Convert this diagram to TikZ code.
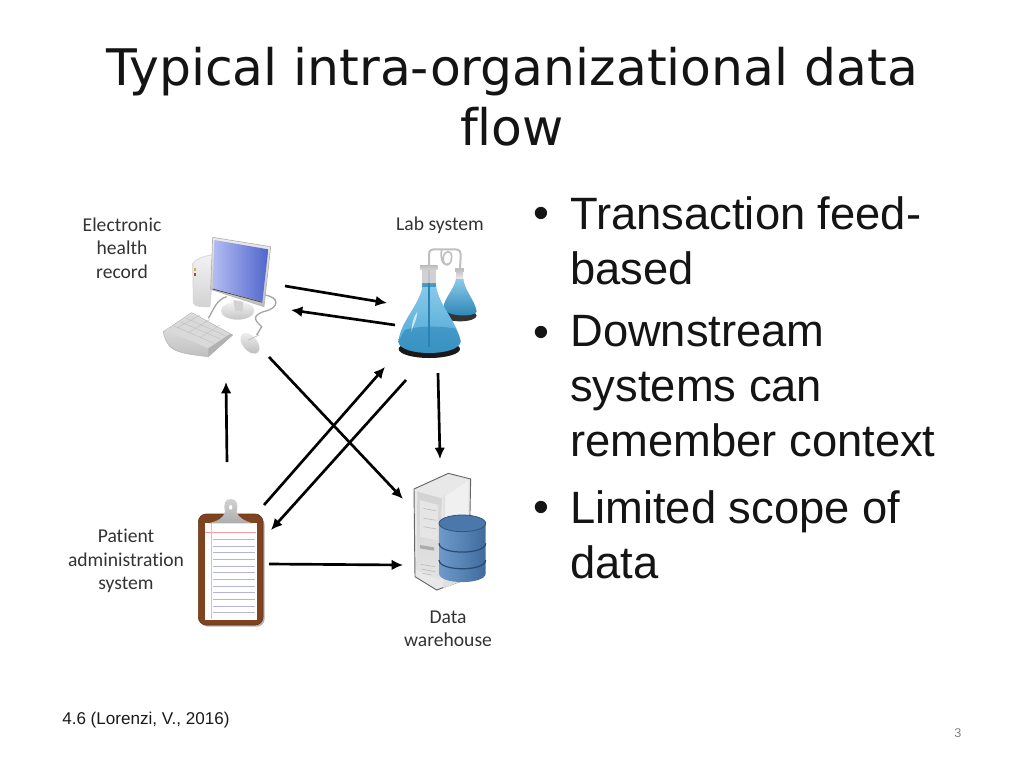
\documentclass[tikz,border=0pt]{standalone}
\usepackage{fontspec}
\setmainfont{Liberation Sans}
\newfontfamily\titlefont[Ligatures=NoCommon]{DejaVu Sans}
\newfontfamily\labelfont[Ligatures=NoCommon]{Carlito}
\usetikzlibrary{arrows.meta,shadings}
\definecolor{lab}{HTML}{333333}
\definecolor{flaskL}{HTML}{8CCBEA}
\definecolor{flaskM}{HTML}{45A3D4}
\definecolor{flaskD}{HTML}{2A83B5}
\definecolor{screenL}{HTML}{B4BCF2}
\definecolor{screenD}{HTML}{4F66CC}
\definecolor{boardc}{HTML}{7E431F}
\definecolor{dbL}{HTML}{6E9BCB}
\definecolor{dbD}{HTML}{3F6A9E}
\definecolor{dbT}{HTML}{4A78AC}
\tikzset{
  link/.style={line width=2pt,black,-{Latex[length=8.5pt,width=8pt]}},
  ttl/.style={font=\titlefont\fontsize{37.8}{45}\selectfont,align=center,text=black!92,inner sep=0},
  bul/.style={font=\fontsize{34}{41.3}\selectfont,align=left,anchor=north west,inner sep=0,text=black!92},
  lbl/.style={font=\labelfont\fontsize{14.7}{17.6}\selectfont,align=center,text=lab,inner sep=0},
  zoomed/.style={x=.25pt,y=-.25pt},
}
\begin{document}
\begin{tikzpicture}[x=.75pt,y=-.75pt]
\useasboundingbox (0,0) rectangle (1024,768);
% title
\node[ttl] (title) at (512,97) {Typical intra-organizational data\\flow};
% bullets
\node[bul] (b1) at (570,196) {Transaction feed-\\based};
\node[bul] (b2) at (570,315) {Downstream\\systems can\\remember context};
\node[bul] (b3) at (570,490) {Limited scope of\\data};
\foreach \n/\y in {d1/218,d2/337,d3/512}
  \node[font=\fontsize{34}{41}\selectfont,inner sep=0,text=black!92] (\n) at (541,\y) {•};
% labels
\node[lbl] (lehr) at (122,248) {Electronic\\health\\record};
\node[lbl] (llab) at (440,225) {Lab system};
\node[lbl] (lpat) at (126,561) {Patient\\administration\\system};
\node[lbl] (ldw) at (448,629) {Data\\warehouse};
\node[font=\fontsize{12.8}{14}\selectfont,anchor=west,inner sep=0,text=black!90] (foot) at (62,720) {4.6 (Lorenzi, V., 2016)};
\node[font=\fontsize{9.5}{12}\selectfont,inner sep=0,text=black!50] (page) at (958,733) {3};

% ---------- computer
\begin{scope}[shift={(60,200)},zoomed]
 \draw[gray!70,line width=1pt] (445,355) .. controls (465,320) and (470,300) .. (500,290);
 \draw[gray!70,line width=1pt] (612,285) .. controls (660,290) and (660,325) .. (610,335) .. controls (570,350) and (590,365) .. (605,380) -- (590,405);
 \draw[gray!35,line width=.5pt,top color=gray!10,bottom color=gray!35] (398,190) .. controls (410,175) and (440,165) .. (462,165) -- (450,320) .. controls (430,322) and (405,320) .. (400,310) -- cycle;
 \fill[olive!60] (402,205) rectangle (409,212);
 \fill[red!50!gray] (402,218) rectangle (409,229);
 \shade[top color=gray!10,bottom color=gray!45] (533,332) ellipse [x radius=50,y radius=27];
 \fill[gray!35] (520,300) -- (550,305) -- (548,335) -- (525,332) -- cycle;
 \draw[gray!60,line width=.5pt,top color=gray!15,bottom color=gray!50] (458,112) -- (632,140) -- (612,320) -- (452,268) -- cycle;
 \shade[left color=screenL,right color=screenD] (463,120) -- (625,148) -- (607,305) -- (458,265) -- cycle;
 \draw[black!70,line width=.6pt] (458,267) -- (607,307);
 % keyboard
 \draw[gray!60,line width=.4pt,top color=gray!15,bottom color=gray!50] (310,395) -- (395,338) -- (518,405) -- (445,470) .. controls (400,465) and (350,460) .. (330,440) .. controls (318,425) and (312,410) .. (310,395) -- cycle;
 \fill[gray!30] (318,390) -- (395,342) -- (510,402) -- (445,445) -- cycle;
 \draw[gray!50,line width=.3pt] (340,377) -- (462,430) (360,365) -- (482,417) (378,354) -- (497,408)
  (352,384) -- (420,345) (385,398) -- (450,358) (420,413) -- (480,375);
 \fill[gray!60] (445,445) -- (510,402) -- (518,405) -- (445,470) -- cycle;
 % mouse
 \shade[top color=gray!15,bottom color=gray!50,rotate around={-50:(570,430)}] (570,430) ellipse [x radius=36,y radius=22];
 \draw[gray!55,line width=.5pt] (565,420) -- (597,405);
\end{scope}
\node[inner sep=0,minimum width=110,minimum height=125] (ehr) at (220,296) {};

% ---------- flasks
\begin{scope}[shift={(380,200)},zoomed]
 % tube
 \draw[gray!50,line width=1.5pt] (147,195) -- (147,165) .. controls (147,148) and (155,148) .. (170,148) -- (225,148) .. controls (240,148) and (242,155) .. (242,170) -- (240,205);
 \draw[gray!50,line width=1.2pt] (185,150) .. controls (175,200) and (215,210) .. (215,170) .. controls (215,150) and (195,150) .. (190,170) .. controls (187,190) and (200,200) .. (205,190);
 % small flask
 \fill[black!80] (240,347) ellipse [x radius=50,y radius=17];
 \shade[top color=flaskL,bottom color=flaskD] (228,235) -- (250,235) .. controls (252,270) and (285,300) .. (290,335) .. controls (285,352) and (195,352) .. (190,322) .. controls (195,290) and (225,265) .. (228,235) -- cycle;
 \fill[gray!50] (224,204) rectangle (252,216);
 \shade[top color=gray!45,bottom color=gray!15] (228,214) rectangle (249,236);
 % large flask
 \fill[black!90] (148,447) ellipse [x radius=92,y radius=27];
 \shade[top color=flaskL,bottom color=flaskM] (128,250) -- (168,250) .. controls (170,310) and (230,360) .. (242,425) .. controls (235,470) and (60,470) .. (55,425) .. controls (62,360) and (125,310) .. (128,250) -- cycle;
 \fill[flaskD,opacity=.55] (74,390) .. controls (120,375) and (190,380) .. (226,385) .. controls (240,410) and (242,420) .. (242,425) .. controls (235,470) and (60,470) .. (55,425) -- cycle;
 \fill[white,opacity=.7] (112,335) .. controls (100,350) and (95,375) .. (94,395) .. controls (100,375) and (112,355) .. (112,335) -- cycle;
 \draw[flaskD,line width=.8pt] (147,205) -- (147,440);
 \shade[top color=gray!55,bottom color=gray!30] (120,195) rectangle (173,209);
 \fill[gray!40,opacity=.9] (125,208) rectangle (167,250);
 \fill[flaskD,opacity=.7] (125,250) rectangle (167,260);
\end{scope}
\node[inner sep=0,minimum width=100,minimum height=125] (labnode) at (430,298) {};

% ---------- clipboard
\begin{scope}[shift={(60,490)},zoomed]
 \fill[black!30,rounded corners=6pt] (420,80) rectangle (614,410);
 \draw[rounded corners=6pt,fill=boardc,draw=boardc!80!black,line width=.5pt] (415,72) rectangle (609,405);
 \fill[white] (435,98) rectangle (590,390);
 \foreach \yy in {148,168,188,208,228,248,268,288,308,328,348,368}
   \draw[blue!30!gray!45,line width=.35pt] (458,\yy) -- (586,\yy);
 \draw[red!40,line width=.4pt] (435,126) -- (588,126);
 \draw[red!30,line width=.4pt] (455,98) -- (455,388);
 \draw[top color=gray!35,bottom color=gray!65,draw=none] (445,100) .. controls (475,92) and (490,85) .. (495,65) .. controls (490,40) and (495,27) .. (512,27) .. controls (530,27) and (535,40) .. (530,65) .. controls (535,85) and (555,92) .. (578,100) -- cycle;
 \fill[white] (512,52) ellipse [x radius=5,y radius=7];
\end{scope}
\node[inner sep=0,minimum width=65,minimum height=130] (pat) at (231,561) {};

% ---------- server
\begin{scope}[shift={(390,465)},zoomed]
 \draw[black!60,line width=.7pt,fill=gray!18] (72,72) -- (175,25) -- (242,42) -- (236,340) -- (140,375) -- (75,335) -- cycle;
 \fill[gray!25] (160,95) -- (238,45) -- (235,340) -- (160,370) -- cycle;
 \fill[gray!12] (165,93) -- (236,46) -- (236,170) -- (165,170) -- cycle;
 \shade[top color=gray!35,bottom color=gray!22] (82,80) -- (155,100) -- (150,345) -- (80,315) -- cycle;
 \fill[gray!20] (90,105) -- (145,120) -- (143,225) -- (90,215) -- cycle;
 \draw[gray!50,line width=.5pt] (100,130) -- (140,138) (100,160) -- (140,166) (100,185) -- (140,192);
 \fill[gray!65] (90,240) -- (132,247) -- (132,257) -- (90,250) -- cycle;
 \draw[gray!50,line width=.5pt] (92,298) -- (135,305) (95,312) -- (135,320) (98,325) -- (125,330);
 \shade[left color=dbL,right color=dbD,draw=none] (147,175) -- (287,175) -- (287,325) .. controls (287,360) and (147,360) .. (147,325) -- cycle;
 \draw[dbD!70!black,line width=.9pt] (147,235) .. controls (147,270) and (287,270) .. (287,235);
 \draw[dbD!70!black,line width=.9pt] (147,285) .. controls (147,320) and (287,320) .. (287,285);
 \draw[dbD!80!black,line width=.6pt,fill=dbT] (217,175) ellipse [x radius=70,y radius=25];
\end{scope}
\node[inner sep=0,minimum width=75,minimum height=120] (dw) at (450,530) {};

% ---------- connectors
\coordinate (a1) at (285,286); \coordinate (a2) at (387,303);
\coordinate (b1e) at (395,325); \coordinate (b2e) at (291,310);
\coordinate (c1) at (269,357); \coordinate (c2) at (403,499);
\coordinate (d1e) at (264,505); \coordinate (d2e) at (385,367);
\coordinate (e1) at (406,380); \coordinate (e2) at (271,530);
\coordinate (f1) at (438,373); \coordinate (f2) at (440,459);
\coordinate (g1) at (227,462); \coordinate (g2) at (226,382);
\coordinate (h1) at (269,564); \coordinate (h2) at (403,565);
\draw[link] (a1) -- (a2);
\draw[link] (b1e) -- (b2e);
\draw[link] (c1) -- (c2);
\draw[link] (d1e) -- (d2e);
\draw[link] (e1) -- (e2);
\draw[link] (f1) -- (f2);
\draw[link] (g1) -- (g2);
\draw[link] (h1) -- (h2);
\end{tikzpicture}
\end{document}
